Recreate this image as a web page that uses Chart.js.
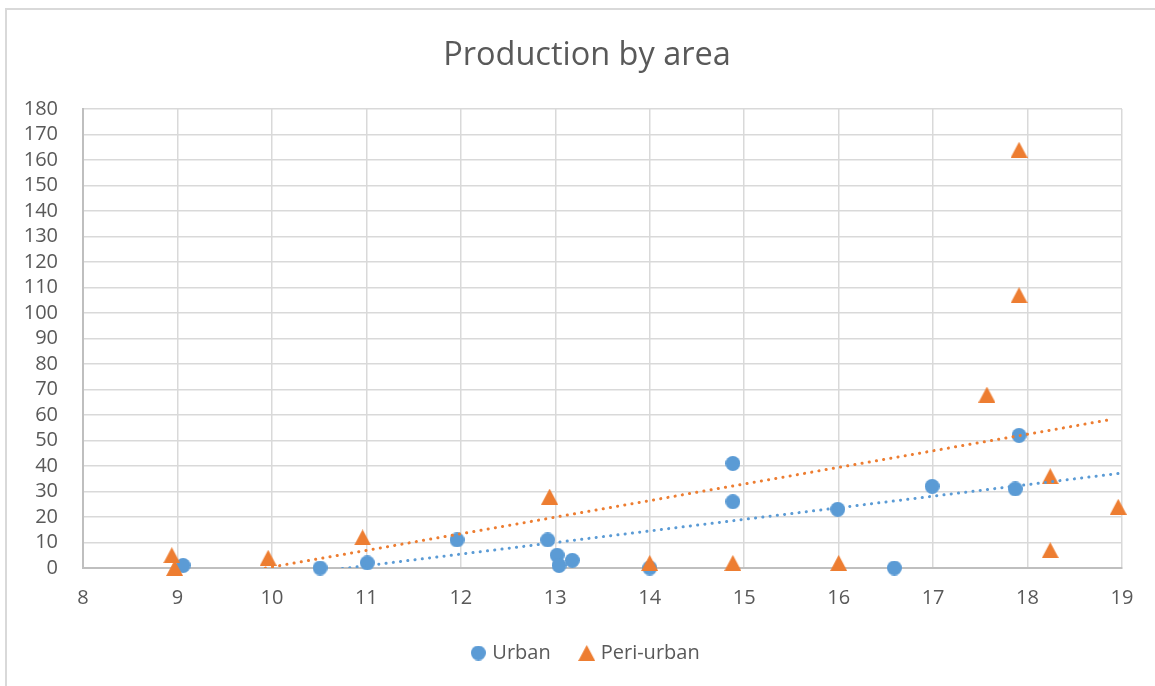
<!DOCTYPE html>
<html>
<head>
<meta charset="utf-8">
<title>Production by area</title>
<script src="https://cdn.jsdelivr.net/npm/chart.js@4.4.1/dist/chart.umd.min.js"></script>
<style>
  html, body { margin: 0; background: #fff; }
  #frame {
    position: absolute; left: 5px; top: 8px; width: 1170px; height: 700px;
    border-left: 2px solid #d9d9d9; border-top: 2px solid #d9d9d9;
  }
  #chart { position: absolute; left: 0; top: 0; }
</style>
</head>
<body>
<div id="frame"></div>
<canvas id="chart" width="1155" height="686"></canvas>
<script>
// Urban samples
const urbanX = [9.06, 10.51, 11.01, 11.96, 12.92, 13.02, 13.04, 13.18, 14.0, 14.88, 14.88, 15.99, 16.59, 16.99, 17.91, 17.87];
const urbanY = [1, 0, 2, 11, 11, 5, 1, 3, 0, 41, 26, 23, 0, 32, 52, 31];

// Peri-urban samples
const periX = [8.94, 8.97, 9.96, 10.96, 12.94, 14.0, 14.88, 16.0, 17.57, 17.91, 17.91, 18.24, 18.24, 18.96];
const periY = [5, 0, 4, 12, 28, 2, 2, 2, 68, 107, 164, 36, 7, 24];

// Linear trend lines (end points)
const urbanTrendX = [9.06, 18.99];
const urbanTrendY = [-7.9, 37.2];
const periTrendX = [8.94, 18.91];
const periTrendY = [-6.5, 58.4];

// axis ranges
const xRange = [8, 19];
const yRange = [0, 180];
const yStep = 10;

const BLUE = '#5b9bd5';
const ORANGE = '#ed7d31';
const TEXT = '#595959';
const GRID = '#d9d9d9';

function circleMarker(d, color) {
  const c = document.createElement('canvas');
  c.width = d; c.height = d;
  const g = c.getContext('2d');
  g.fillStyle = color;
  g.beginPath();
  g.arc(d / 2, d / 2, d / 2, 0, Math.PI * 2);
  g.fill();
  return c;
}

function triangleMarker(w, h, color) {
  const c = document.createElement('canvas');
  c.width = w; c.height = h;
  const g = c.getContext('2d');
  g.fillStyle = color;
  g.beginPath();
  g.moveTo(0, h);
  g.lineTo(w / 2, 0);
  g.lineTo(w, h);
  g.closePath();
  g.fill();
  return c;
}

const toPoints = (xs, ys) => xs.map((x, i) => ({ x: x, y: ys[i] }));

const dot = circleMarker(15, BLUE);
const tri = triangleMarker(17, 16, ORANGE);

Chart.defaults.font.family = '"Open Sans", sans-serif';
Chart.defaults.font.size = 20;
Chart.defaults.color = TEXT;

const trendStyle = {
  showLine: true,
  pointRadius: 0,
  borderWidth: 3,
  borderDash: [0.1, 7.2],
  borderCapStyle: 'round',
  fill: false,
  isTrend: true,
  order: 1
};

new Chart(document.getElementById('chart'), {
  type: 'scatter',
  data: {
    datasets: [
      {
        label: 'Urban',
        data: toPoints(urbanX, urbanY),
        pointStyle: dot,
        pointRadius: 7,
        backgroundColor: BLUE,
        borderColor: BLUE,
        clip: false,
        order: 3
      },
      {
        label: 'Peri-urban',
        data: toPoints(periX, periY),
        pointStyle: tri,
        pointRadius: 8,
        backgroundColor: ORANGE,
        borderColor: ORANGE,
        clip: false,
        order: 2
      },
      Object.assign({ label: 'Linear (Urban)', data: toPoints(urbanTrendX, urbanTrendY), borderColor: BLUE }, trendStyle),
      Object.assign({ label: 'Linear (Peri-urban)', data: toPoints(periTrendX, periTrendY), borderColor: ORANGE }, trendStyle)
    ]
  },
  options: {
    responsive: false,
    animation: false,
    events: [],
    layout: { padding: { left: 20, right: 1, top: 0, bottom: 13 } },
    scales: {
      x: {
        type: 'linear',
        min: xRange[0],
        max: xRange[1],
        ticks: { stepSize: 1, padding: 18, color: TEXT, autoSkip: false },
        grid: { color: GRID, lineWidth: 1.5, drawTicks: false },
        border: { color: '#bfbfbf', width: 2 },
        afterFit: (s) => { s.height = 43; }
      },
      y: {
        min: yRange[0],
        max: yRange[1],
        ticks: { stepSize: yStep, padding: 25, color: TEXT, autoSkip: false },
        grid: { color: GRID, lineWidth: 1.5, drawTicks: false },
        border: { color: '#bfbfbf', width: 2 },
        afterFit: (s) => { s.width = 63; }
      },
      // empty spacer on the right so the title and legend sit centred on the frame
      spacer: {
        type: 'linear',
        position: 'right',
        ticks: { display: false },
        grid: { display: false },
        border: { display: false },
        afterFit: (s) => { s.width = 32; }
      }
    },
    plugins: {
      tooltip: { enabled: false },
      title: {
        display: true,
        text: 'Production by area',
        color: TEXT,
        font: { size: 32.5, weight: 'normal' },
        padding: { top: 36.2, bottom: 33.8 }
      },
      legend: {
        position: 'bottom',
        labels: {
          usePointStyle: true,
          pointStyleWidth: 8,
          padding: 32,
          color: TEXT,
          filter: (item, data) => !data.datasets[item.datasetIndex].isTrend,
          sort: (a, b) => a.datasetIndex - b.datasetIndex
        }
      }
    }
  }
});
</script>
</body>
</html>
